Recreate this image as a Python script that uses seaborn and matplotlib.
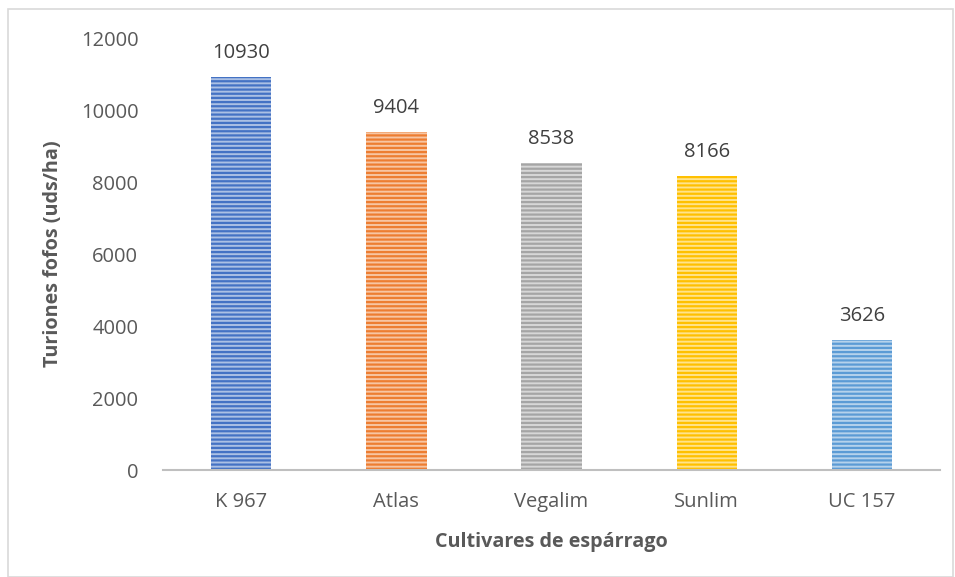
import matplotlib.pyplot as plt
import matplotlib.patches as mpatches
import matplotlib.colors as mcolors
import pandas as pd
import seaborn as sns

# Turiones fofos por cultivar
cultivares = ["K 967", "Atlas", "Vegalim", "Sunlim", "UC 157"]
turiones = [10930, 9404, 8538, 8166, 3626]
colores = ["#4472C4", "#ED7D31", "#A5A5A5", "#FFC000", "#5B9BD5"]
y_ticks = [0, 2000, 4000, 6000, 8000, 10000, 12000]

df = pd.DataFrame({"cultivar": cultivares, "turiones": turiones})

sns.set_style("white")
plt.rcParams["font.family"] = ["Open Sans", "DejaVu Sans"]
plt.rcParams["hatch.linewidth"] = 1.6

fig = plt.figure(figsize=(9.55, 5.77), dpi=100)
ax = fig.add_axes([0.171, 0.185, 0.813, 0.749])

sns.barplot(data=df, x="cultivar", y="turiones", hue="cultivar",
            palette=colores, width=0.39, legend=False, ax=ax)

# horizontal stripe fill like the Excel pattern
for patch, c in zip(ax.patches, colores):
    light = [0.45 * v + 0.55 for v in mcolors.to_rgb(c)]
    patch.set_facecolor(light)
    patch.set_edgecolor(c)
    patch.set_linewidth(0)
    patch.set_hatch("----")

texto = "#595959"
for i, v in enumerate(turiones):
    ax.text(i, v + 380, str(v), ha="center", va="bottom", fontsize=14.5, color="#404040")

ax.set_ylim(0, 12000)
ax.set_yticks(y_ticks)
ax.set_yticklabels([str(t) for t in y_ticks], fontsize=14.5, color=texto)
ax.tick_params(axis="x", labelsize=14.5, colors=texto, length=0, pad=16)
ax.tick_params(axis="y", length=0, pad=18)

for s in ["top", "right", "left"]:
    ax.spines[s].set_visible(False)
ax.spines["bottom"].set_color("#BFBFBF")
ax.spines["bottom"].set_linewidth(1.5)

ax.set_xlabel("Cultivares de espárrago", fontsize=14.2, fontweight="bold",
              color=texto, labelpad=14)
ax.set_ylabel("Turiones fofos (uds/ha)", fontsize=14.2, fontweight="bold",
              color=texto, labelpad=13)

# light frame round the chart area
fig.patches.append(mpatches.Rectangle((0.008, 0.0), 0.99, 0.984, transform=fig.transFigure,
                                      fill=False, edgecolor="#D9D9D9", linewidth=1.2))

fig.savefig("out.png", dpi=100)
